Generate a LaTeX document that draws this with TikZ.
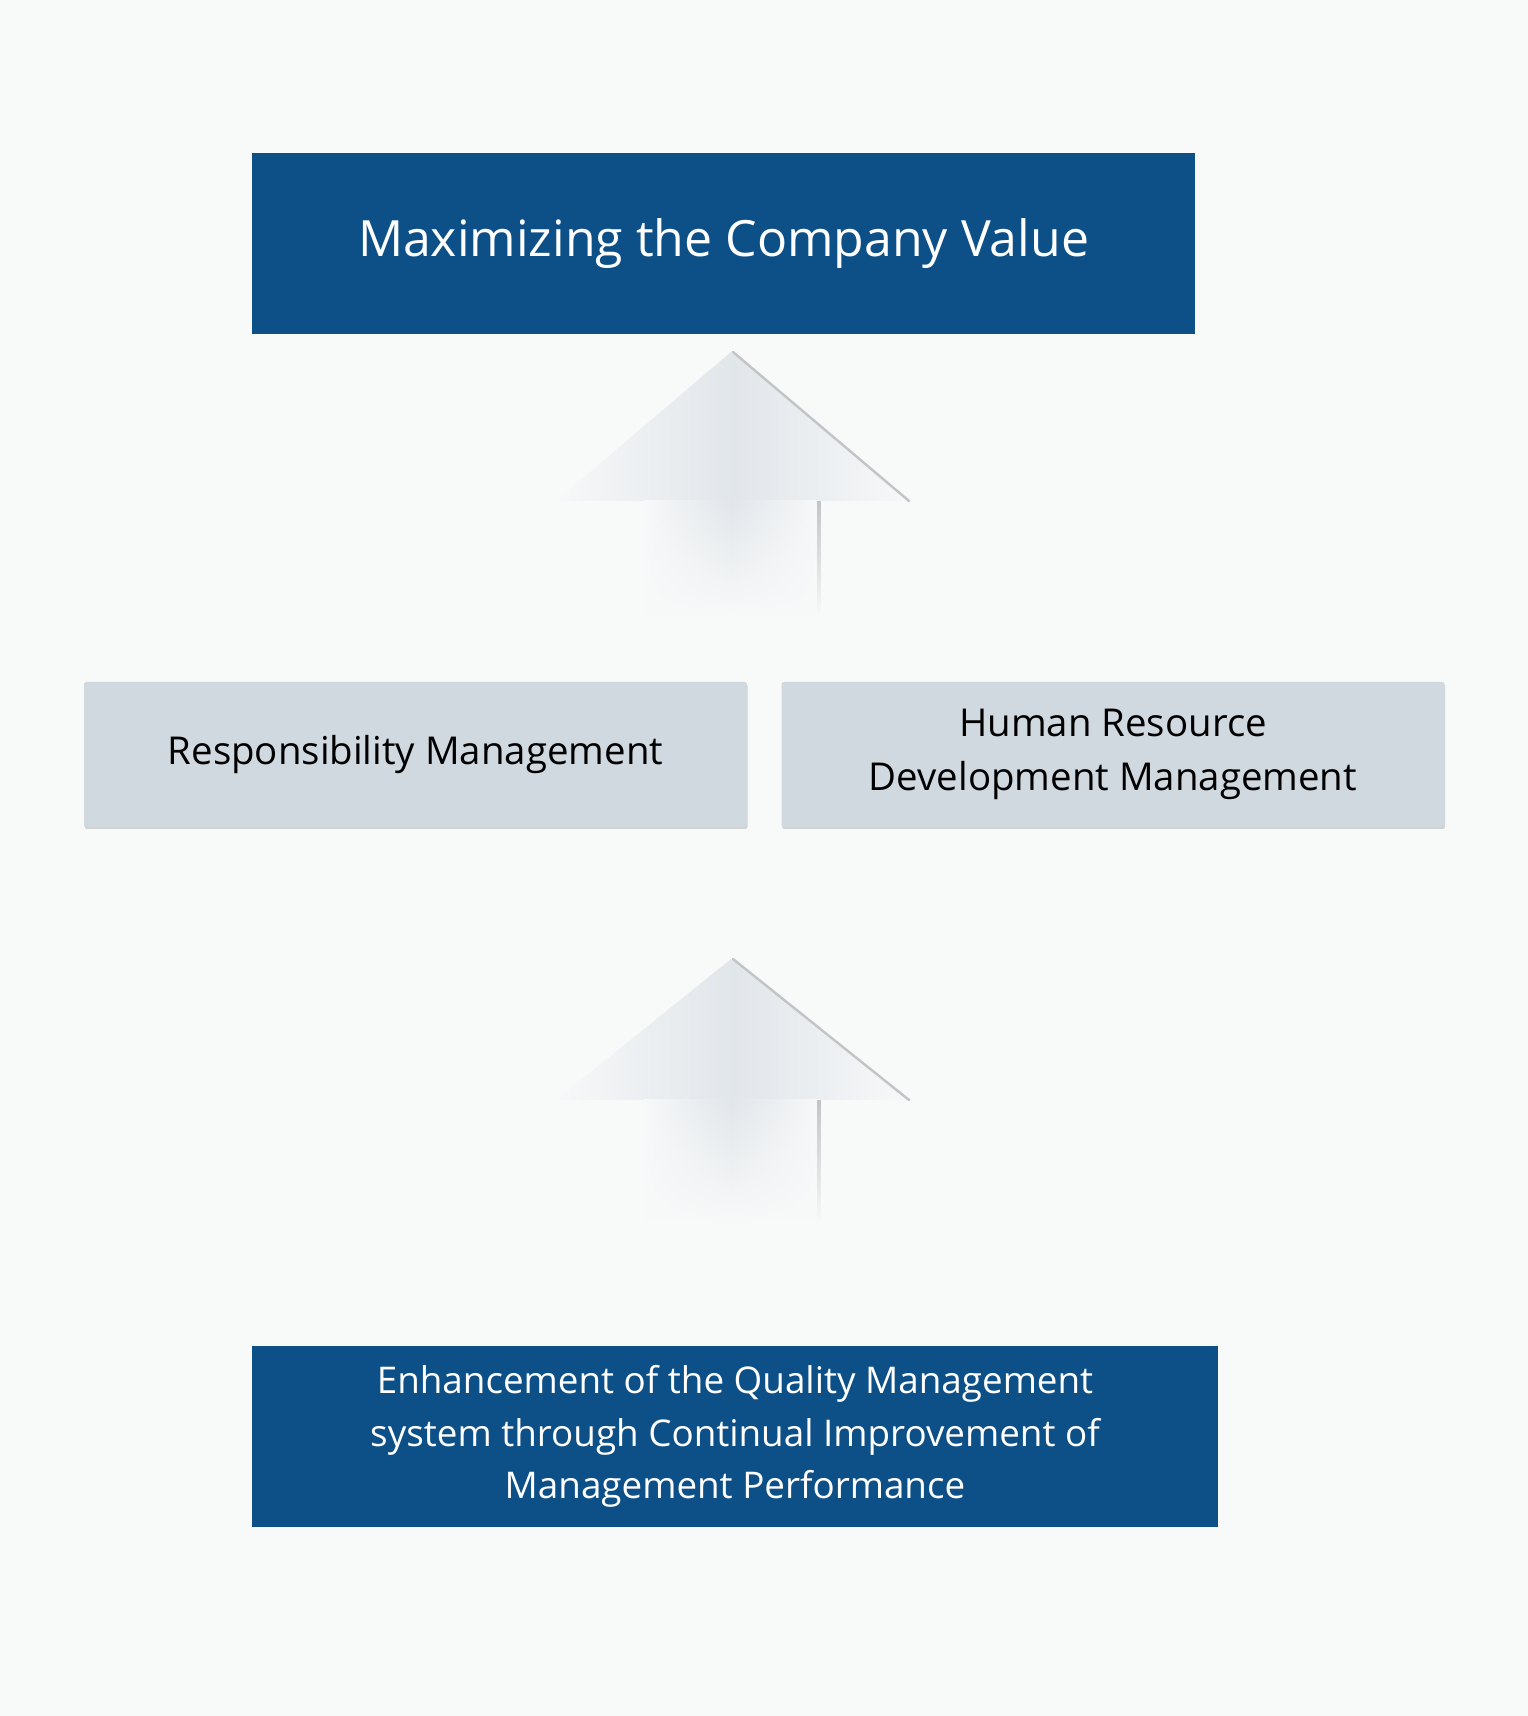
\documentclass[tikz,border=0pt]{standalone}
\usepackage{fontspec}
\setmainfont{Open Sans}
\usepackage{tikz}
\usetikzlibrary{positioning,shadows,fadings}

\definecolor{pagebg}{HTML}{F8F9F9}
\definecolor{navy}{HTML}{0D5087}
\definecolor{steel}{HTML}{D0D9E0}
\definecolor{arrowmid}{HTML}{E1E6EA}
\definecolor{arrowside}{HTML}{F7F8F9}
\definecolor{arrowline}{HTML}{C2C4C6}

\tikzfading[name=fade shaft, top color=transparent!0, bottom color=transparent!100]

\begin{document}
\begin{tikzpicture}[
      x=0.25pt, y=0.25pt,
      box/.style={align=center, inner sep=0pt, outer sep=0pt},
      goal/.style={box, fill=navy, text=white, minimum height=45.25pt},
      pillar/.style={box, fill=steel, text=black, minimum width=165.75pt,
                     minimum height=36.25pt, rounded corners=0.6pt,
                     font=\fontsize{9.6}{13.7}\selectfont,
                     drop shadow={shadow xshift=0.15pt, shadow yshift=-0.5pt,
                                  opacity=0.35, fill=black!45}},
      headfill/.style={left color=arrowside, right color=arrowside,
                       middle color=arrowmid},
      edge/.style={arrowline, line width=0.6pt, line cap=round},
    ]
    % --- page (y counted upwards from the bottom, 1716 high) ---------------
    \fill[pagebg] (0,0) rectangle (1528,1716);

    % --- boxes -------------------------------------------------------------
    \node[goal, minimum width=235.75pt, font=\fontsize{12.5}{15}\selectfont]
         (value) at (723.5, 1472.5) {Maximizing the Company Value};
    \node[pillar] (resp) at (415.5, 961.5) {Responsibility Management};
    \node[pillar] (hr) at (1113, 961.5) {Human Resource\\Development Management};
    \node[goal, minimum width=241.5pt, font=\fontsize{9.2}{13.1}\selectfont]
         (quality) at (735, 279.5)
         {Enhancement of the Quality Management\\
          system through Continual Improvement of\\Management Performance};

    % --- block arrows (tip y, head base y, shaft end y) --------------------
    \foreach \tipy/\basey/\endy in {1364/1215/1101, 757/616/494} {
      \shade[headfill] (731,\tipy) -- (911,\basey) -- (556,\basey) -- cycle;
      \shade[headfill, path fading=fade shaft]
           (644,\basey) rectangle (819,\endy);
      \draw[edge] (733,\tipy) -- (909,\basey);
      \fill[arrowline, path fading=fade shaft]
           (817,\basey) rectangle (821,\endy);
    }
\end{tikzpicture}
\end{document}
